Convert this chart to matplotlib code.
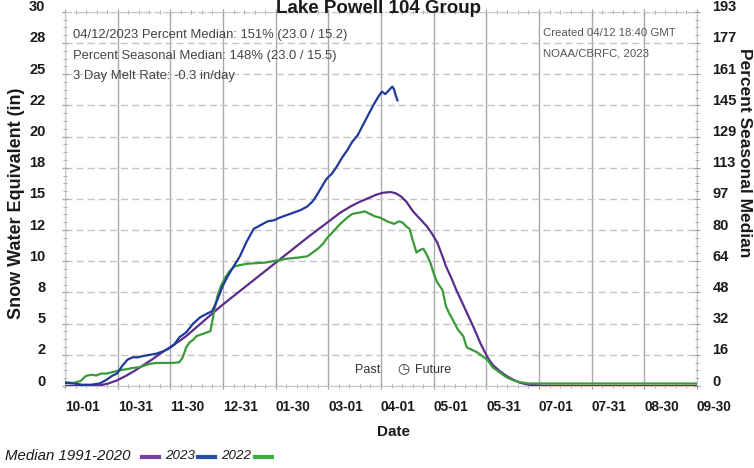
import numpy as np
import matplotlib
matplotlib.use("Agg")
import matplotlib.pyplot as plt
import matplotlib.ticker as ticker
from matplotlib.transforms import ScaledTranslation
from matplotlib.patches import Rectangle

plt.rcParams['font.family'] = ['Liberation Sans Narrow', 'Liberation Sans', 'DejaVu Sans']

# day of water year (0 = Oct 1) and snow water equivalent (in)
median_day = [0, 10, 20, 25, 30, 35, 40, 45, 50, 55, 60, 66, 70, 75, 80, 85, 90, 95, 100,
              110, 120, 130, 140, 150, 159, 165, 170, 175, 180, 184, 188, 191, 194, 197,
              201, 205, 209, 212, 215, 218, 220, 223, 226, 229, 232, 236, 240, 244, 247,
              251, 255, 259, 263, 268, 275, 300, 330, 365]
median_swe = [0, 0, 0.05, 0.2, 0.45, 0.8, 1.2, 1.65, 2.1, 2.6, 3.05, 3.6, 4.0, 4.6, 5.2, 5.8,
              6.4, 6.95, 7.5, 8.6, 9.7, 10.8, 11.9, 12.95, 13.9, 14.4, 14.75, 15.05, 15.35,
              15.5, 15.55, 15.45, 15.2, 14.8, 14.0, 13.4, 12.8, 12.2, 11.5, 10.4, 9.6, 8.7,
              7.7, 6.8, 5.9, 4.7, 3.4, 2.3, 1.7, 1.2, 0.8, 0.5, 0.25, 0.1, 0.02, 0, 0, 0]

wy2023_day = [0, 5, 10, 15, 20, 24, 27, 30, 33, 36, 39, 42, 45, 49, 53, 57, 60, 63, 66, 70,
              74, 78, 82, 85, 88, 91, 94, 97, 101, 105, 109, 113, 117, 121, 124, 128, 132,
              136, 140, 143, 145, 148, 151, 154, 157, 160, 163, 166, 169, 172, 175, 178,
              181, 183, 185, 187, 189, 190, 191, 192]
wy2023_swe = [0.25, 0.2, 0.1, 0.1, 0.2, 0.5, 0.8, 1.0, 1.6, 2.1, 2.3, 2.3, 2.4, 2.5, 2.6, 2.8,
              3.0, 3.3, 3.9, 4.3, 5.0, 5.5, 5.8, 6.0, 6.9, 8.0, 8.8, 9.5, 10.4, 11.6, 12.6,
              12.9, 13.2, 13.3, 13.5, 13.7, 13.9, 14.1, 14.4, 14.8, 15.2, 15.9, 16.6, 17.0,
              17.6, 18.3, 18.9, 19.6, 20.1, 20.9, 21.7, 22.5, 23.2, 23.6, 23.4, 23.7, 24.0,
              23.8, 23.3, 22.9]

wy2022_day = [0, 5, 9, 12, 15, 18, 21, 24, 27, 30, 33, 36, 39, 43, 47, 50, 53, 57, 62, 66,
              68, 70, 72, 74, 76, 80, 84, 86, 88, 90, 93, 95, 98, 105, 116, 128, 135, 140,
              143, 146, 149, 151, 155, 159, 163, 166, 170, 173, 176, 179, 182, 186, 190,
              193, 195, 197, 199, 201, 203, 205, 207, 209, 211, 213, 215, 218, 220, 222,
              224, 227, 230, 232, 235, 238, 241, 244, 247, 251, 255, 259, 263, 268, 365]
wy2022_swe = [0.3, 0.25, 0.4, 0.8, 0.9, 0.85, 1.0, 1.0, 1.1, 1.2, 1.3, 1.35, 1.45, 1.5, 1.7,
              1.8, 1.85, 1.85, 1.85, 1.9, 2.3, 3.1, 3.5, 3.7, 4.0, 4.2, 4.4, 5.9, 7.2, 8.0,
              8.8, 9.2, 9.6, 9.8, 9.9, 10.2, 10.3, 10.4, 10.7, 11.0, 11.4, 11.8, 12.4, 13.0,
              13.5, 13.8, 13.9, 14.0, 13.8, 13.6, 13.5, 13.2, 13.0, 13.2, 13.1, 12.8, 12.6,
              11.6, 10.7, 10.9, 11.0, 10.5, 9.9, 9.0, 8.3, 7.7, 6.4, 5.8, 5.3, 4.5, 4.0, 3.1,
              2.9, 2.7, 2.4, 2.1, 1.5, 1.1, 0.7, 0.45, 0.3, 0.2, 0.2]

date_labels = ["10-01", "10-31", "11-30", "12-31", "01-30", "03-01", "04-01",
               "05-01", "05-31", "07-01", "07-31", "08-30", "09-30"]
swe_labels = ["0", "2", "5", "8", "10", "12", "15", "18", "20", "22", "25", "28", "30"]
pct_labels = ["0", "16", "32", "48", "64", "80", "97", "113", "129", "145", "161", "177", "193"]

c_median = "#5a2d8c"
c_2023 = "#1f3a9c"
c_2022 = "#3a9a3a"
sans = ['Liberation Sans', 'DejaVu Sans']

fig = plt.figure(figsize=(7.54, 4.68), dpi=100)
ax = fig.add_axes([0.0862, 0.1752, 0.8382, 0.7996])

ax.set_xlim(0, 365)
ax.set_ylim(0, 30)
xt = np.linspace(0, 365, 13)
yt = np.linspace(0, 30, 13)
ax.set_xticks(xt)
ax.set_xticklabels(date_labels)
ax.set_yticks(yt)
ax.set_yticklabels(swe_labels)
ax.xaxis.set_minor_locator(ticker.AutoMinorLocator(5))
ax.yaxis.set_minor_locator(ticker.AutoMinorLocator(4))

ax.grid(axis='x', which='major', color='#aaaaaa', linewidth=1.0, linestyle='-')
ax.grid(axis='y', which='major', color='#c4c4c4', linewidth=1.0, linestyle=(0, (5, 3)))
for s in ax.spines.values():
    s.set_color('#c8c8c8')
    s.set_linewidth(0.8)
ax.spines['top'].set_linestyle((0, (5, 3)))

ax.tick_params(axis='both', which='both', color='#999999', direction='inout')
ax.tick_params(axis='x', which='major', length=4, pad=8, labelsize=9.8, labelcolor='#1a1a1a')
ax.tick_params(axis='x', which='minor', length=3)
ax.tick_params(axis='y', which='major', length=4, pad=12, labelsize=10.5, labelcolor='#1a1a1a')
ax.tick_params(axis='y', which='minor', length=3)
ax.tick_params(axis='x', which='both', top=True)

for lab in ax.get_xticklabels():
    lab.set_horizontalalignment('left')
    lab.set_fontweight('bold')
for lab in ax.get_yticklabels():
    lab.set_fontweight('bold')
    lab.set_transform(lab.get_transform() + ScaledTranslation(0, 0.06, fig.dpi_scale_trans))

ax2 = ax.twinx()
ax2.set_ylim(0, 30)
ax2.set_yticks(yt)
ax2.set_yticklabels(pct_labels)
ax2.yaxis.set_minor_locator(ticker.AutoMinorLocator(4))
ax2.tick_params(axis='y', which='both', color='#999999', direction='inout')
ax2.tick_params(axis='y', which='major', length=4, pad=9, labelsize=10.5, labelcolor='#1a1a1a')
ax2.tick_params(axis='y', which='minor', length=3)
for s in ax2.spines.values():
    s.set_visible(False)
for lab in ax2.get_yticklabels():
    lab.set_fontweight('bold')
    lab.set_transform(lab.get_transform() + ScaledTranslation(0, 0.06, fig.dpi_scale_trans))

# white boxes behind the info text
ax.add_patch(Rectangle((0, 0.804), 0.475, 0.196, transform=ax.transAxes,
                       facecolor='white', edgecolor='none', zorder=1.5))
ax.add_patch(Rectangle((0.752, 0.868), 0.248, 0.132, transform=ax.transAxes,
                       facecolor='white', edgecolor='none', zorder=1.5))

ax.plot(median_day, median_swe, color=c_median, linewidth=1.6, zorder=3)
ax.plot(wy2022_day, wy2022_swe, color=c_2022, linewidth=1.6, zorder=3)
ax.plot(wy2023_day, wy2023_swe, color=c_2023, linewidth=1.6, zorder=4)

info = ["04/12/2023 Percent Median: 151% (23.0 / 15.2)",
        "Percent Seasonal Median: 148% (23.0 / 15.5)",
        "3 Day Melt Rate: -0.3 in/day"]
for i, t in enumerate(info):
    fig.text(73 / 754, 1 - (35 + 20.5 * i) / 468, t, fontsize=9.4, color='#444444',
             va='center', ha='left', family=sans)
fig.text(543 / 754, 1 - 33 / 468, "Created 04/12 18:40 GMT", fontsize=8.2, color='#555555',
         va='center', ha='left', family=sans)
fig.text(543 / 754, 1 - 53 / 468, "NOAA/CBRFC, 2023", fontsize=8.2, color='#555555',
         va='center', ha='left', family=sans)

fig.text(380 / 754, 1 - 370 / 468, "Past", fontsize=9, color='#333333', ha='right',
         va='center', family=sans)
fig.text(403 / 754, 1 - 369 / 468, "\u25f7", fontsize=10, color='#333333', ha='center',
         va='center', family=['DejaVu Sans'])
fig.text(415 / 754, 1 - 370 / 468, "Future", fontsize=9, color='#333333', ha='left',
         va='center', family=sans)

fig.text(378 / 754, 1.0, "Lake Powell 104 Group", fontsize=13.5, fontweight='bold',
         ha='center', va='top', color='#1a1a1a', family=sans)
fig.text(17 / 754, 1 - 203 / 468, "Snow Water Equivalent (in)", fontsize=13,
         fontweight='bold', rotation=90, ha='center', va='center', color='#1a1a1a',
         family=sans)
fig.text(745 / 754, 1 - 153 / 468, "Percent Seasonal Median", fontsize=12.5,
         fontweight='bold', rotation=-90, ha='center', va='center', color='#1a1a1a',
         family=sans)
fig.text(394 / 754, 1 - 432 / 468, "Date", fontsize=11, fontweight='bold', ha='center',
         va='center', color='#1a1a1a')

# legend row
fig.text(5 / 754, 1 - 456 / 468, "Median 1991-2020", fontsize=10.8, style='italic',
         ha='left', va='center', color='#1a1a1a', family=sans)
fig.text(165 / 754, 1 - 456 / 468, "2023", fontsize=9.6, style='italic',
         ha='left', va='center', color='#1a1a1a', family=sans)
fig.text(221 / 754, 1 - 456 / 468, "2022", fontsize=9.6, style='italic',
         ha='left', va='center', color='#1a1a1a', family=sans)
for x0, col in [(142, "#7b3fa0"), (198, "#2a4aa8"), (255, "#3fae3f")]:
    fig.add_artist(plt.Line2D([x0 / 754, (x0 + 17) / 754], [1 - 457 / 468] * 2,
                              color=col, linewidth=3, transform=fig.transFigure))

fig.savefig("out.png", dpi=100)
